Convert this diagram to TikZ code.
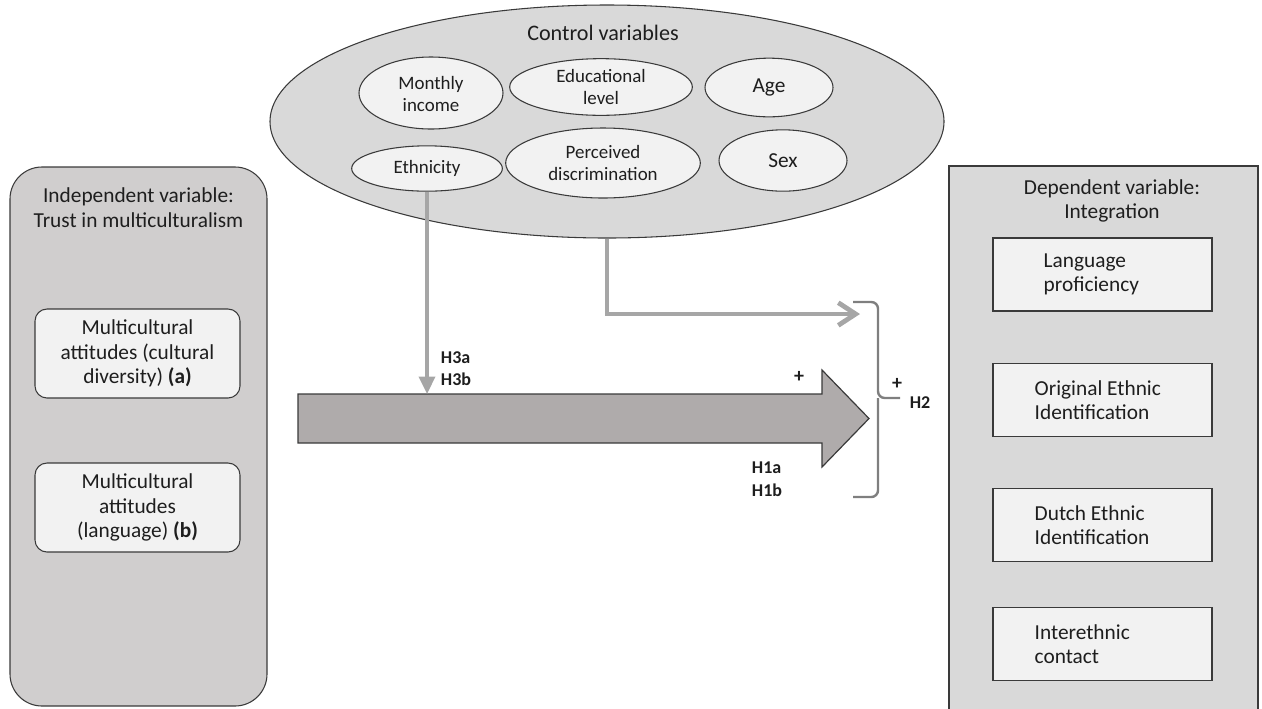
\documentclass[tikz,border=0pt]{standalone}
\usepackage{fontspec}
\setmainfont{Carlito}
\usetikzlibrary{shapes.geometric,arrows.meta}
\definecolor{ctrlfill}{HTML}{D9D9D9}
\definecolor{innerfill}{HTML}{F2F2F2}
\definecolor{leftfill}{HTML}{D0CECE}
\definecolor{rightfill}{HTML}{D9D9D9}
\definecolor{bigarrowfill}{HTML}{AFABAB}
\definecolor{edgecol}{HTML}{3A3A3A}
\definecolor{conncol}{HTML}{A6A6A6}
\definecolor{bracecol}{HTML}{7F7F7F}
\definecolor{txtcol}{HTML}{1E1E1E}
\begin{document}
\begin{tikzpicture}[x=0.75pt,y=-0.75pt,
  font=\fontsize{16}{18.5}\selectfont, text=txtcol,
  ctrlell/.style={ellipse, draw=edgecol, line width=0.8pt, fill=ctrlfill, inner sep=0pt},
  ell/.style={ellipse, draw=edgecol, line width=0.8pt, fill=innerfill, inner sep=0pt},
  elltext/.style={align=center, font=\fontsize{14.2}{16.8}\selectfont},
  bigtext/.style={align=center, font=\fontsize{16}{18.5}\selectfont},
  leftbox/.style={draw=edgecol, line width=0.8pt, fill=leftfill, rounded corners=24pt, inner sep=0pt},
  rightbox/.style={draw=edgecol, line width=1pt, fill=rightfill, inner sep=0pt},
  attbox/.style={draw=edgecol, line width=0.8pt, fill=innerfill, rounded corners=9pt, inner sep=0pt,
     minimum width=153.75pt, minimum height=66.75pt},
  depbox/.style={draw=edgecol, line width=1pt, fill=innerfill, inner sep=0pt,
     minimum width=164.25pt, minimum height=54.75pt},
  deptext/.style={anchor=west, align=left},
  hyp/.style={font=\fontsize{13.5}{17}\selectfont\bfseries},
  plus/.style={font=\fontsize{15}{17}\selectfont\bfseries},
  connline/.style={draw=conncol, line width=2.6pt},
]
\useasboundingbox (0,0) rectangle (1262,708);

% ---------- control variables ----------
\node[ctrlell, minimum width=505.5pt, minimum height=174.75pt] (ctrl) at (607,121.5) {};
\node[bigtext, font=\fontsize{16.6}{19}\selectfont] (ctrltitle) at (603,33) {Control variables};

\node[ell, minimum width=108pt, minimum height=54pt] (mi) at (431,93) {};
\node[elltext] at (431,94) {Monthly\\income};
\node[ell, minimum width=137pt, minimum height=42.5pt] (el) at (601,87) {};
\node[elltext] at (el.center) {Educational\\level};
\node[ell, minimum width=96pt, minimum height=44pt] (age) at (769,87.5) {};
\node[elltext, font=\fontsize{16}{18.5}\selectfont] at (age.center) {Age};
\node[ell, minimum width=113pt, minimum height=34pt] (eth) at (427,168.5) {};
\node[elltext] at (eth.center) {Ethnicity};
\node[ell, minimum width=146pt, minimum height=52.5pt] (pd) at (603,163) {};
\node[elltext] at (pd.center) {Perceived\\discrimination};
\node[ell, minimum width=96pt, minimum height=46pt] (sex) at (783,160.5) {};
\node[elltext, font=\fontsize{16}{18.5}\selectfont] at (sex.center) {Sex};

% ---------- independent variable ----------
\node[leftbox, minimum width=192.75pt, minimum height=404.25pt] (indep) at (138.5,436.5) {};
\node[bigtext] (indeptitle) at (138.5,207.5) {Independent variable:\\Trust in multiculturalism};
\node[attbox, align=center] (atta) at (137.5,353.5) {Multicultural\\attitudes (cultural\\diversity) \textbf{(a)}};
\node[attbox, align=center] (attb) at (137.5,507.5) {Multicultural\\attitudes\\(language) \textbf{(b)}};

% ---------- dependent variable ----------
\node[rightbox, minimum width=231.75pt, minimum height=423pt] (dep) at (1103.5,448) {};
\node[bigtext] (deptitle) at (1112,201) {Dependent variable:\\Integration};
\node[depbox] (lang) at (1102.5,274.5) {};
\node[deptext] at (1039,274.5) {Language\\proficiency};
\node[depbox] (orig) at (1102.5,400) {};
\node[deptext] at (1030,400) {Original Ethnic\\Identification};
\node[depbox] (dutch) at (1102.5,525) {};
\node[deptext] at (1030,525) {Dutch Ethnic\\Identification};
\node[depbox] (inter) at (1102.5,644) {};
\node[deptext] at (1030,644) {Interethnic\\contact};

% ---------- main arrow ----------
\draw[draw=edgecol, line width=0.9pt, fill=bigarrowfill]
  (298,394) -- (822,394) -- (822,370) -- (869,418.5) -- (822,467) -- (822,443) -- (298,443) -- cycle;
\coordinate (arrowtop) at (424,394);

% ---------- connectors ----------
\draw[connline, -{Triangle[length=13pt,width=12pt]}] (eth.south) -- (eth.south |- arrowtop);
\coordinate (bracein) at (860,314);
\draw[draw=conncol, line width=3.6pt, -{Straight Barb[length=13pt,width=17pt]}] (ctrl.south) |- (bracein);

% ---------- brace ----------
\draw[bracecol, line width=1.8pt, rounded corners=5pt] (853,302) -- (878,302) -- (878,398) -- (900,398);
\draw[bracecol, line width=1.8pt, rounded corners=5pt] (853,497) -- (878,497) -- (878,398);

% ---------- labels ----------
\node[hyp, align=left] (h3) at (456,368.5) {H3a\\H3b};
\node[hyp, align=left] (h1) at (767,479.5) {H1a\\H1b};
\node[plus] (p1) at (799,377) {+};
\node[plus] (p2) at (897,384) {+};
\node[hyp] (h2) at (920,403) {H2};
\end{tikzpicture}
\end{document}
